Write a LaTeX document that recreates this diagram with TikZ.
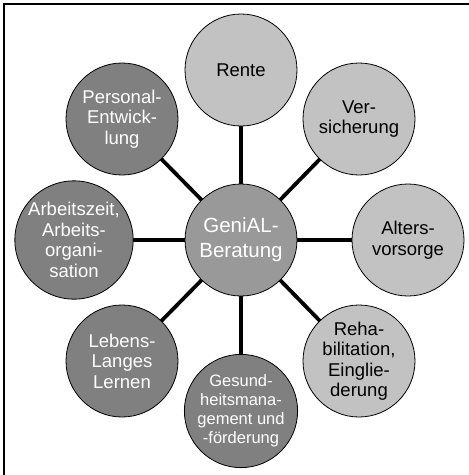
\documentclass[tikz,border=0pt]{standalone}
\usepackage{fontspec}
\setmainfont{Liberation Sans}
\usetikzlibrary{backgrounds}
\definecolor{hubgray}{RGB}{153,153,153}
\definecolor{darkgray}{RGB}{128,128,128}
\definecolor{lightgray}{RGB}{194,194,194}
\begin{document}
\begin{tikzpicture}[x=1pt,y=-1pt,
  bubble/.style={circle, draw=black, line width=0.8pt, minimum size=112pt,
    inner sep=0pt, align=center, font=\fontsize{18.5}{20.5}\selectfont},
  hub/.style={bubble, fill=hubgray, text=white, font=\fontsize{20.5}{25}\selectfont},
  darkbubble/.style={bubble, fill=darkgray, text=white},
  lightbubble/.style={bubble, fill=lightgray, text=black},
  link/.style={line width=3.8pt, black}]
  \useasboundingbox (0,0) rectangle (469,475);

  % frame: top and left edges only
  \draw[line width=2.4pt] (4,475) -- (4,4) -- (469,4);

  % central topic
  \node[hub] (c) at (241,240) {GeniAL-\\Beratung};

  % surrounding topics
  \node[lightbubble] (rente) at (241,70) {Rente};
  \node[lightbubble] (vers) at (359,119) {Ver-\\sicherung};
  \node[lightbubble] (alters) at (408,240) {Alters-\\vorsorge};
  \node[lightbubble] (reha) at (359,361) {Reha-\\bilitation,\\Einglie-\\derung};
  \node[darkbubble, font=\fontsize{16.5}{19}\selectfont] (gesund) at (241,411)
    {Gesund-\\heitsmana-\\gement und\\-förderung};
  \node[darkbubble] (lebens) at (122,361) {Lebens-\\Langes\\Lernen};
  \node[darkbubble] (arbeit) at (74,240) {Arbeitszeit,\\Arbeits-\\organi-\\sation};
  \node[darkbubble] (personal) at (122,119) {Personal-\\Entwick-\\lung};

  % spokes behind the circles
  \begin{pgfonlayer}{background}
    \foreach \n in {rente,vers,alters,reha,gesund,lebens,arbeit,personal}
      \draw[link] (c.center) -- (\n.center);
  \end{pgfonlayer}
\end{tikzpicture}
\end{document}
